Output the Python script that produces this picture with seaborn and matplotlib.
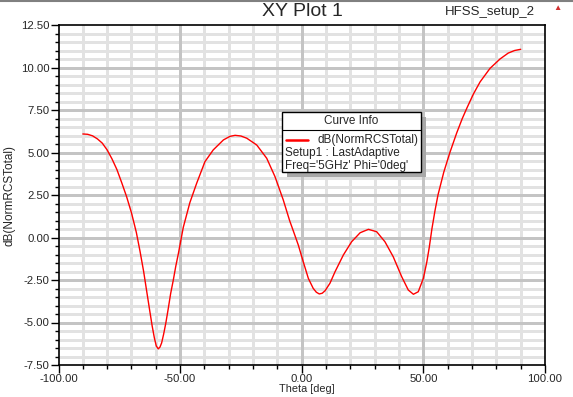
import numpy as np
import pandas as pd
import matplotlib
matplotlib.use("Agg")
import matplotlib.pyplot as plt
import matplotlib.patches as mpatches
import matplotlib.lines as mlines
from matplotlib.ticker import MultipleLocator, FormatStrFormatter
import seaborn as sns

# curve
theta = [-90, -88, -86, -84, -82, -80, -78, -76, -74, -72,
         -70, -68, -66.5, -65, -63.7, -62.5, -61.5, -60.6, -59.8, -59.0,
         -58.3, -57.6, -56.8, -55.9, -54.9, -53.9, -52.8, -51.8, -50.7, -48.7,
         -46.0, -43.2, -39.8, -36.4, -32.2, -29.5, -27.4, -25.0, -22.6, -18.5,
         -14.4, -11.0, -7.6, -5.0, -3.5, -1.4, 0.6, 2.7, 4.7, 6.0,
         7.2, 8.4, 9.6, 11.6, 13.7, 17.1, 20.5, 24.0, 27.4, 30.8,
         34.2, 37.6, 41.1, 43.8, 45.9, 47.9, 50.0, 51.4, 52.4, 53.5,
         54.8, 56.0, 58.4, 60.9, 63.7, 66.0, 68.0, 70.6, 73.3, 77.4,
         81.5, 84.9, 87.5, 90]
rcs_db = [6.09, 6.07, 5.98, 5.80, 5.55, 5.15, 4.62, 4.00, 3.22, 2.40,
          1.45, 0.30, -0.80, -2.00, -3.20, -4.30, -5.20, -5.90, -6.38, -6.55,
          -6.45, -6.20, -5.70, -5.05, -4.20, -3.30, -2.50, -1.70, -0.93, 0.60,
          2.05, 3.19, 4.46, 5.15, 5.74, 5.95, 6.01, 5.97, 5.84, 5.44,
          4.66, 3.58, 2.21, 1.00, 0.40, -0.45, -1.42, -2.40, -2.99, -3.22,
          -3.32, -3.28, -3.13, -2.69, -2.01, -1.03, -0.25, 0.28, 0.48, 0.34,
          -0.25, -1.13, -2.31, -3.09, -3.34, -3.19, -2.40, -1.45, -0.60, 0.50,
          1.60, 2.50, 3.85, 5.00, 6.15, 7.00, 7.65, 8.45, 9.15, 9.95,
          10.50, 10.85, 11.00, 11.07]

df = pd.DataFrame({"Theta [deg]": theta, "dB(NormRCSTotal)": rcs_db})

W, H = 573, 397
sns.set_style("white")
plt.rcParams['font.family'] = ['Liberation Sans', 'DejaVu Sans']

fig = plt.figure(figsize=(W / 100, H / 100), dpi=100)
ax = fig.add_axes([58.5 / W, 1 - 365 / H, (545 - 58.5) / W, (365 - 25) / H])

def fx(px):
    return px / W

def fy(py):
    return 1 - py / H

sns.lineplot(data=df, x="Theta [deg]", y="dB(NormRCSTotal)", ax=ax,
             color="#ff0000", linewidth=1.0, zorder=5)

ax.set_xlim(-100, 100)
ax.set_ylim(-7.5, 12.5)
ax.xaxis.set_major_locator(MultipleLocator(50))
ax.xaxis.set_minor_locator(MultipleLocator(10))
ax.yaxis.set_major_locator(MultipleLocator(2.5))
ax.yaxis.set_minor_locator(MultipleLocator(0.5))
ax.xaxis.set_major_formatter(FormatStrFormatter("%.2f"))
ax.yaxis.set_major_formatter(FormatStrFormatter("%.2f"))
ax.tick_params(which="major", direction="out", length=6, width=1, color="black",
               labelsize=8.2, pad=0.5, left=True, bottom=True)
ax.tick_params(which="minor", direction="out", length=3, width=1, color="black",
               left=True, bottom=True)

# grid: minor lines light, major lines darker, from the axis locators
xmin = [v for v in ax.xaxis.get_minorticklocs() if -100 < v < 100]
ymin = [v for v in ax.yaxis.get_minorticklocs() if -7.5 < v < 12.5]
ax.vlines(xmin, -7.5, 12.5, color="#e2e2e2", linewidth=1.0, zorder=1,
          antialiased=False)
ax.hlines(ymin, -100, 100, color="#e2e2e2", linewidth=1.0, zorder=1,
          antialiased=False)
xmaj = [v for v in ax.get_xticks() if -100 < v < 100]
ymaj = [v for v in ax.get_yticks() if -7.5 < v < 12.5]
ax.vlines(xmaj, -7.5, 12.5, color="#c4c4c4", linewidth=1.0, zorder=2,
          antialiased=False)
ax.hlines(ymaj, -100, 100, color="#c4c4c4", linewidth=1.0, zorder=2,
          antialiased=False)
ax.set_xlim(-100, 100)
ax.set_ylim(-7.5, 12.5)

for s in ax.spines.values():
    s.set_color("black")
    s.set_linewidth(1.2)

ax.set_xlabel("")
ax.set_ylabel("")
fig.text(fx(307), fy(388.5), "Theta [deg]", ha="center", va="center", fontsize=7.8)
fig.text(fx(10), fy(195), "dB(NormRCSTotal)", ha="center", va="center",
         rotation=90, fontsize=8.5)

fig.text(fx(302), fy(12), "XY Plot 1", ha="center", va="center", fontsize=14)
fig.text(fx(490), fy(12.5), "HFSS_setup_2", ha="center", va="center", fontsize=9.5)
fig.text(fx(557), fy(8), "\u25b2", ha="center", va="center", fontsize=6, color="#d03030")

# top frame line
fig.add_artist(mlines.Line2D([0, 1], [fy(0.5), fy(0.5)], color="#808080",
                             linewidth=1.5, transform=fig.transFigure))

# "Curve Info" box
bx0, by0, bx1, by1 = 281.5, 112, 421, 172
fig.add_artist(mpatches.Rectangle((fx(bx0 + 5), fy(by1 + 5)), (bx1 - bx0) / W, (by1 - by0) / H,
                                  transform=fig.transFigure, facecolor="#a8a8a8",
                                  edgecolor="none", zorder=8))
fig.add_artist(mpatches.Rectangle((fx(bx0), fy(by1)), (bx1 - bx0) / W, (by1 - by0) / H,
                                  transform=fig.transFigure, facecolor="white",
                                  edgecolor="black", linewidth=1, zorder=9))
fig.add_artist(mlines.Line2D([fx(bx0), fx(bx1)], [fy(129.5), fy(129.5)], color="black",
                             linewidth=0.8, transform=fig.transFigure, zorder=10))
fig.add_artist(mlines.Line2D([fx(286), fx(308)], [fy(139.5), fy(139.5)], color="#ff0000",
                             linewidth=1.8, transform=fig.transFigure, zorder=10))
fig.text(fx((bx0 + bx1) / 2), fy(121), "Curve Info", ha="center", va="center",
         fontsize=8.5, zorder=11)
fig.text(fx(317), fy(139.5), "dB(NormRCSTotal)", ha="left", va="center", fontsize=8.5, zorder=11)
fig.text(fx(285), fy(153), "Setup1 : LastAdaptive", ha="left", va="center", fontsize=8.5, zorder=11)
fig.text(fx(285), fy(165.5), "Freq='5GHz' Phi='0deg'", ha="left", va="center", fontsize=8.5, zorder=11)

fig.savefig("out.png", dpi=100)
